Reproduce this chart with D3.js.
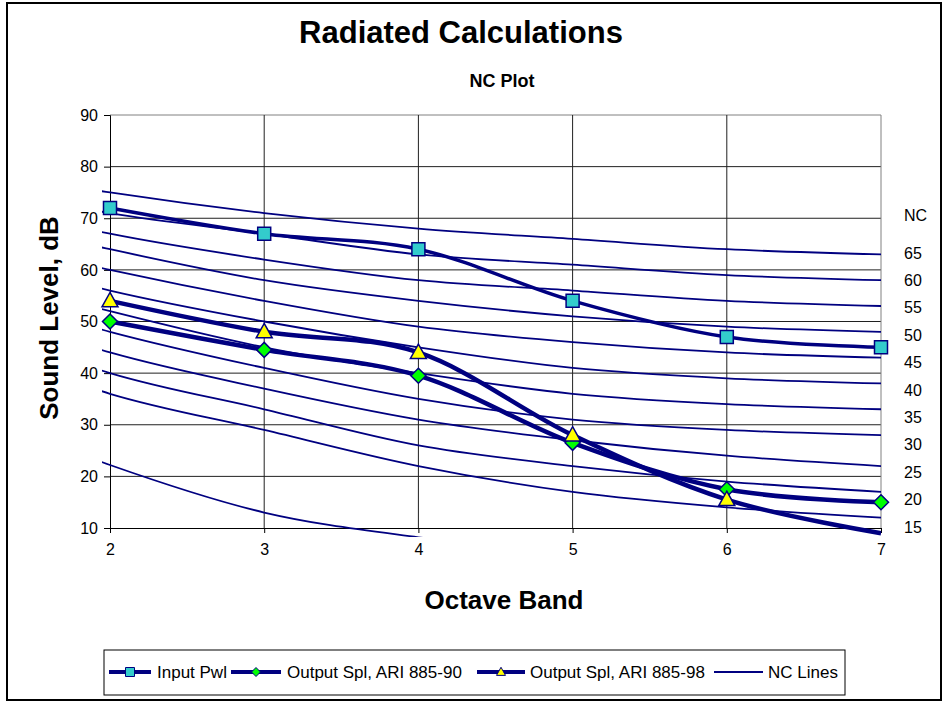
<!DOCTYPE html>
<html>
<head>
<meta charset="utf-8">
<script src="https://cdn.jsdelivr.net/npm/d3@7"></script>
<style>
  html, body { margin: 0; padding: 0; background: #fff; }
  svg { display: block; font-family: Arial, "Liberation Sans", sans-serif; }
</style>
</head>
<body>
<svg id="chart" width="948" height="704"></svg>
<script>
// Octave band positions on the x axis and measured sound levels (dB)
const octaveBands = [2, 3, 4, 5, 6, 7];
const inputPwl = [72, 67, 64, 54, 47, 45];
const outputSpl90 = [50, 44.5, 39.5, 26.5, 17.5, 15];
const outputSpl98 = [54, 48, 44, 28, 15.5, 9];

// NC reference curves, bands 1..7 (63 Hz .. 4 kHz)
const ncBands = [1, 2, 3, 4, 5, 6, 7];
const nc65 = [80, 75, 71, 68, 66, 64, 63];
const nc60 = [77, 71, 67, 63, 61, 59, 58];
const nc55 = [74, 67, 62, 58, 56, 54, 53];
const nc50 = [71, 64, 58, 54, 51, 49, 48];
const nc45 = [67, 60, 54, 49, 46, 44, 43];
const nc40 = [64, 56, 50, 45, 41, 39, 38];
const nc35 = [60, 52, 45, 40, 36, 34, 33];
const nc30 = [57, 48, 41, 35, 31, 29, 28];
const nc25 = [54, 44, 37, 31, 27, 24, 22];
const nc20 = [51, 40, 33, 26, 22, 19, 17];
const nc15 = [47, 36, 29, 22, 17, 14, 12];
const ncFloor = [34, 22.2, 13, 8.2, 5];

const yTicks = [10, 20, 30, 40, 50, 60, 70, 80, 90];
const ncLabels = ["65", "60", "55", "50", "45", "40", "35", "30", "25", "20", "15"];

const svg = d3.select("#chart");
const NAVY = "#000080";

const plotL = 110, plotR = 881, plotT = 115, plotB = 528;
const x = d3.scaleLinear().domain([2, 7]).range([plotL, plotR]);
const y = d3.scaleLinear().domain([10, 90]).range([plotB, plotT]);

// outer chart frame
svg.append("rect").attr("x", 7).attr("y", 3).attr("width", 934).attr("height", 697)
  .attr("fill", "#fff").attr("stroke", "#000").attr("stroke-width", 2);

// gridlines
const grid = svg.append("g");
grid.selectAll("line.h").data(yTicks.slice(1)).join("line")
  .attr("x1", plotL).attr("x2", plotR)
  .attr("y1", d => y(d)).attr("y2", d => y(d))
  .attr("stroke", d => d === 90 ? "#808080" : "#202020").attr("stroke-width", 1);
grid.selectAll("line.v").data(octaveBands.slice(1)).join("line")
  .attr("x1", d => x(d)).attr("x2", d => x(d))
  .attr("y1", plotT).attr("y2", plotB)
  .attr("stroke", d => d === 7 ? "#808080" : "#202020").attr("stroke-width", 1);

// axes
const yAxis = svg.append("g").attr("transform", `translate(${plotL},0)`)
  .call(d3.axisLeft(y).tickValues(yTicks).tickSize(6).tickPadding(6));
const xAxis = svg.append("g").attr("transform", `translate(0,${plotB})`)
  .call(d3.axisBottom(x).tickValues(octaveBands).tickFormat(d3.format("d")).tickSize(5).tickPadding(11));
[yAxis, xAxis].forEach(g => {
  g.selectAll("path, line").attr("stroke", "#000").attr("stroke-width", 1);
  g.selectAll("text").attr("font-size", 16).attr("fill", "#000")
    .attr("font-family", "Arial, 'Liberation Sans', sans-serif");
});

// clip region for the lines
svg.append("clipPath").attr("id", "lineClip")
  .append("rect").attr("x", 102).attr("y", 100).attr("width", 790).attr("height", 437);

const smooth = d3.line().curve(d3.curveCardinal.tension(0));
const lines = svg.append("g").attr("clip-path", "url(#lineClip)");

// NC curves
const ncSets = [nc65, nc60, nc55, nc50, nc45, nc40, nc35, nc30, nc25, nc20, nc15, ncFloor];
ncSets.forEach(vals => {
  lines.append("path")
    .attr("d", smooth(vals.map((v, i) => [x(ncBands[i]), y(v)])))
    .attr("fill", "none").attr("stroke", NAVY).attr("stroke-width", 1.8);
});

// measured series
const series = [
  { name: "Input Pwl", values: inputPwl, width: 3.5, marker: "square", fill: "#33CCCC" },
  { name: "Output Spl, ARI 885-90", values: outputSpl90, width: 4.5, marker: "diamond", fill: "#00FF00" },
  { name: "Output Spl, ARI 885-98", values: outputSpl98, width: 4.5, marker: "triangle", fill: "#FFFF00" }
];
series.forEach(s => {
  lines.append("path")
    .attr("d", smooth(s.values.map((v, i) => [x(octaveBands[i]), y(v)])))
    .attr("fill", "none").attr("stroke", NAVY).attr("stroke-width", s.width)
    .attr("stroke-linejoin", "round");
});

function markerPath(kind, r) {
  if (kind === "square") return `M${-r},${-r}H${r}V${r}H${-r}Z`;
  if (kind === "diamond") return `M0,${-r}L${r},0L0,${r}L${-r},0Z`;
  return `M0,${-r * 1.05}L${r},${r * 0.75}L${-r},${r * 0.75}Z`;
}
const markerSize = { square: 6.5, diamond: 7.5, triangle: 8 };
series.forEach(s => {
  svg.append("g").selectAll("path")
    .data(s.values.map((v, i) => ({ b: octaveBands[i], v })).filter(d => d.v >= 10 && d.v <= 90))
    .join("path")
    .attr("transform", d => `translate(${x(d.b)},${y(d.v)})`)
    .attr("d", markerPath(s.marker, markerSize[s.marker]))
    .attr("fill", s.fill).attr("stroke", NAVY).attr("stroke-width", 1.5);
});

// NC value labels on the right
const ncScale = d3.scalePoint().domain(ncLabels).range([253, 527]);
svg.append("text").attr("x", 904).attr("y", 215).attr("dy", "0.35em")
  .attr("font-size", 16).text("NC");
svg.append("g").selectAll("text").data(ncLabels).join("text")
  .attr("x", 904).attr("y", d => ncScale(d)).attr("dy", "0.35em")
  .attr("font-size", 16).text(d => d);

// titles
svg.append("text").attr("x", 461).attr("y", 43).attr("text-anchor", "middle")
  .attr("font-size", 31).attr("font-weight", "bold").text("Radiated Calculations");
svg.append("text").attr("x", 502).attr("y", 87).attr("text-anchor", "middle")
  .attr("font-size", 18).attr("font-weight", "bold").text("NC Plot");
svg.append("text").attr("x", 504).attr("y", 609).attr("text-anchor", "middle")
  .attr("font-size", 26).attr("font-weight", "bold").text("Octave Band");
svg.append("text").attr("transform", "translate(58,318) rotate(-90)").attr("text-anchor", "middle")
  .attr("font-size", 26).attr("font-weight", "bold").text("Sound Level, dB");

// legend
const legend = svg.append("g");
legend.append("rect").attr("x", 104).attr("y", 650).attr("width", 741).attr("height", 45)
  .attr("fill", "#fff").attr("stroke", "#000").attr("stroke-width", 1);
const legendItems = [
  { ...series[0], x0: 109, x1: 151, tx: 157 },
  { ...series[1], x0: 231, x1: 281, tx: 287 },
  { ...series[2], x0: 477, x1: 525, tx: 530 },
  { name: "NC Lines", width: 1.8, marker: null, x0: 714, x1: 763, tx: 768 }
];
const ly = 672;
legendItems.forEach(it => {
  legend.append("line").attr("x1", it.x0).attr("x2", it.x1).attr("y1", ly).attr("y2", ly)
    .attr("stroke", NAVY).attr("stroke-width", it.marker ? 4 : 1.8);
  if (it.marker) {
    legend.append("path").attr("transform", `translate(${(it.x0 + it.x1) / 2},${ly})`)
      .attr("d", markerPath(it.marker, 4.5))
      .attr("fill", it.fill).attr("stroke", NAVY).attr("stroke-width", 1);
  }
  legend.append("text").attr("x", it.tx).attr("y", ly).attr("dy", "0.35em")
    .attr("font-size", 17).text(it.name);
});
</script>
</body>
</html>
